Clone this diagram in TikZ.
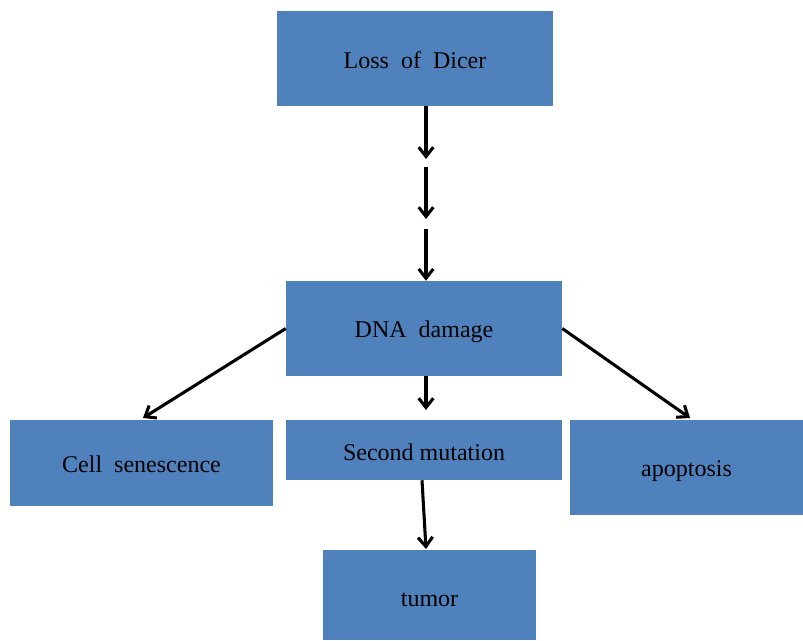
\documentclass[tikz,border=0pt]{standalone}
\usepackage{fontspec}
\setmainfont{Liberation Serif}
\usetikzlibrary{arrows.meta}
\definecolor{boxblue}{HTML}{4F81BD}
\begin{document}
\begin{tikzpicture}[x=0.75pt,y=-0.75pt,
  box/.style={rectangle,fill=boxblue,draw=none,inner sep=0pt,
    font=\fontsize{18}{21}\selectfont,text=black,text depth=0pt},
  arr/.style={line width=2.3pt,-{Straight Barb[length=7pt,width=11pt,line width=2.3pt]}}]
\useasboundingbox (0,0) rectangle (803,640);
\fill[white] (0,0) rectangle (803,640);
% boxes (text height sets where the baseline sits inside each box)
\node[box,minimum width=207pt,minimum height=71.25pt,text height=14.25pt] (loss) at (415,58.5) {Loss\hspace{0.5em}of\hspace{0.5em}Dicer};
\node[box,minimum width=207pt,minimum height=71.25pt,text height=12.75pt] (dna) at (424,328.5) {DNA\hspace{0.5em}damage};
\node[box,minimum width=197.25pt,minimum height=64.5pt,text height=13.5pt] (cell) at (141.5,463) {Cell\hspace{0.5em}senescence};
\node[box,minimum width=207pt,minimum height=45pt,text height=16pt] (second) at (424,450) {Second mutation};
\node[box,minimum width=174.75pt,minimum height=71.25pt,text height=12.75pt] (apop) at (686.5,467.5) {apoptosis};
\node[box,minimum width=159.75pt,minimum height=67.5pt,text height=16.5pt] (tumor) at (429.5,595) {tumor};
% broken chain of arrows from the top box down to DNA damage
\coordinate (c1) at (426,159);
\coordinate (c2) at (426,167);
\coordinate (c3) at (426,219);
\coordinate (c4) at (426,229);
\draw[arr] (loss.south -| c1) -- (c1);
\draw[arr] (c2) -- (c3);
\draw[arr] (c4) -- (dna.north -| c4);
% branches
\coordinate (cs) at (143,418);
\coordinate (ap) at (690,418);
\coordinate (sm) at (426,410);
\coordinate (tu) at (426,549);
\draw[arr] (dna.west) -- (cs);
\draw[arr] (dna.east) -- (ap);
\draw[arr] (dna.south -| sm) -- (sm);
\draw[arr] ([xshift=-1.5pt]second.south) -- (tu);
\end{tikzpicture}
\end{document}
